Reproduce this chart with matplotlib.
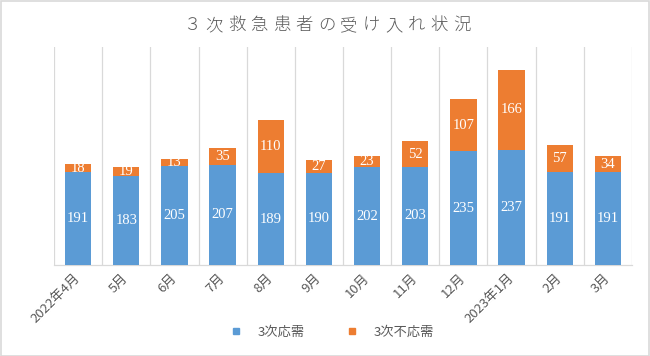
import matplotlib
matplotlib.use("Agg")
import matplotlib.pyplot as plt
from matplotlib.lines import Line2D
from matplotlib.patches import Rectangle
import numpy as np

categories = ["2022年4月", "5月", "6月", "7月", "8月", "9月", "10月", "11月", "12月",
              "2023年1月", "2月", "3月"]
accepted = [191, 183, 205, 207, 189, 190, 202, 203, 235, 237, 191, 191]
rejected = [18, 19, 13, 35, 110, 27, 23, 52, 107, 166, 57, 34]
series_names = ["3次応需", "3次不応需"]
title = "３次救急患者の受け入れ状況"

JP = ["Noto Sans CJK JP", "DejaVu Sans"]
plt.rcParams['font.family'] = JP

blue = "#5B9BD5"
orange = "#ED7D31"
gray_text = "#595959"
grid_c = "#D9D9D9"

W, H = 650, 356
fig = plt.figure(figsize=(W / 100, H / 100), dpi=100)
ax = fig.add_axes([54 / W, 1 - 265 / H, (632 - 54) / W, (265 - 47) / H])

x = np.arange(len(categories))
bw = 0.55
b1 = ax.bar(x, accepted, bw, color=blue, zorder=3)
b2 = ax.bar(x, rejected, bw, bottom=accepted, color=orange, zorder=3)

serif = ["Liberation Serif", "DejaVu Serif"]
for i in range(len(x)):
    ax.text(x[i], accepted[i] / 2, str(accepted[i]), ha='center', va='center',
            color='white', fontsize=10.5, family=serif, zorder=4)
    ax.text(x[i], accepted[i] + rejected[i] / 2, str(rejected[i]), ha='center', va='center',
            color='white', fontsize=10.5, family=serif, zorder=4)

ax.set_xlim(-0.5, len(x) - 0.5)
ax.set_ylim(0, 450)
ax.set_yticks([])
ax.set_xticks(x)
ax.set_xticklabels(categories, rotation=45, ha='right', va='center',
                   rotation_mode='anchor', fontsize=9.5, color=gray_text)
ax.tick_params(axis='x', length=0, pad=8)
ax.set_xticks(np.arange(-0.5, len(x), 1.0), minor=True)
ax.tick_params(axis='x', which='minor', length=0)
ax.grid(True, which='minor', axis='x', color=grid_c, lw=0.9, zorder=0)
for s in ['top', 'left', 'right']:
    ax.spines[s].set_visible(False)
ax.spines['bottom'].set_color(grid_c)
ax.spines['bottom'].set_linewidth(0.9)

# title with letter spacing
pitch = 22.5
c0 = 326.5 - pitch * (len(title) - 1) / 2
for i, ch in enumerate(title):
    fig.text((c0 + pitch * i) / W, 1 - 25 / H, ch, ha='center', va='center',
             fontsize=12.5, color=gray_text, fontweight='light')

handles = [Line2D([], [], marker='s', ls='none', color=blue, markersize=4.5),
           Line2D([], [], marker='s', ls='none', color=orange, markersize=4.5)]
fig.legend(handles, series_names, loc='center', bbox_to_anchor=(333 / W, 1 - 332 / H),
           ncol=2, frameon=False, fontsize=9.5, labelcolor=gray_text,
           handlelength=0.6, handletextpad=1.3, columnspacing=3.3)

fig.add_artist(Rectangle((0.5 / W, 0.5 / H), (W - 1.5) / W, (H - 1.5) / H,
                         transform=fig.transFigure, fill=False, edgecolor=grid_c, lw=1.2))

fig.savefig("out.png", dpi=100)
